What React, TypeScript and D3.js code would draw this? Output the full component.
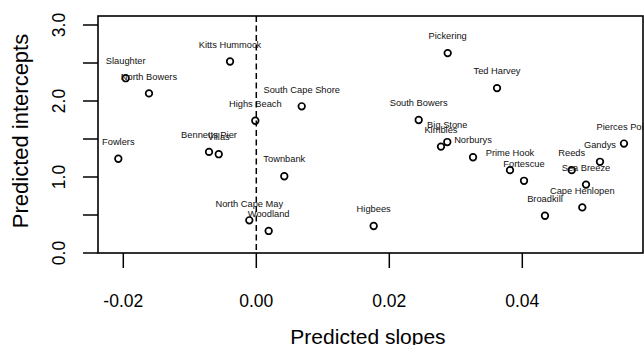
import React from "react";
import * as d3 from "d3";

const sites = [
  "Slaughter", "North Bowers", "Kitts Hummock", "Highs Beach", "South Cape Shore",
  "Fowlers", "Bennetts Pier", "Villas", "Townbank", "North Cape May", "Woodland",
  "Pickering", "Ted Harvey", "South Bowers", "Big Stone", "Kimbles", "Norburys",
  "Prime Hook", "Fortescue", "Reeds", "Gandys", "Pierces Point", "Sea Breeze",
  "Cape Henlopen", "Broadkill", "Higbees",
];
const slopes = [
  -0.01964, -0.01614, -0.00395, -0.00015, 0.00683,
  -0.02075, -0.00711, -0.00565, 0.00421, -0.00105, 0.00186,
  0.02878, 0.0362, 0.02442, 0.02872, 0.02777, 0.03259,
  0.03815, 0.04026, 0.04743, 0.05168, 0.05529, 0.04958,
  0.04902, 0.04341, 0.01765,
];
const intercepts = [
  2.3, 2.1, 2.52, 1.74, 1.93,
  1.24, 1.33, 1.3, 1.01, 0.43, 0.29,
  2.63, 2.17, 1.75, 1.46, 1.4, 1.26,
  1.09, 0.95, 1.09, 1.2, 1.44, 0.9,
  0.6, 0.49, 0.355,
];
const xTicks = [-0.02, 0, 0.02, 0.04];
const yTicks = [0, 0.5, 1, 1.5, 2, 2.5, 3];
const yLabels = [0, 1, 2, 3];

const W = 644;
const H = 345;
const font = "'Liberation Sans', Arial, sans-serif";

export default function App() {
  const left = 98, right = 643, top = 16, bottom = 253;
  const x = d3.scaleLinear().domain([-0.02, 0.04]).range([123.3, 522.3]);
  const y = d3.scaleLinear().domain([0, 3]).range([253, 25]);
  const tickLen = 15;

  return (
    <svg
      width={W}
      height={H}
      style={{ position: "absolute", left: 0, top: 0, background: "#fff" }}
      fontFamily={font}
    >
      {/* box */}
      <rect x={left} y={top} width={right - left} height={bottom - top} fill="none" stroke="#000" strokeWidth={1.6} />
      {/* zero line */}
      <line x1={x(0)} x2={x(0)} y1={top} y2={bottom} stroke="#000" strokeWidth={1.5} strokeDasharray="6,3.5" />
      {/* x axis ticks */}
      {xTicks.map((t) => (
        <g key={"xt" + t}>
          <line x1={x(t)} x2={x(t)} y1={bottom} y2={bottom + tickLen} stroke="#000" strokeWidth={1.5} />
          <text x={x(t)} y={307} fontSize={17.5} textAnchor="middle" fill="#000">
            {t.toFixed(2)}
          </text>
        </g>
      ))}
      {/* y axis ticks */}
      {yTicks.map((t) => (
        <line key={"yt" + t} x1={left - tickLen} x2={left} y1={y(t)} y2={y(t)} stroke="#000" strokeWidth={1.5} />
      ))}
      {yLabels.map((t) => (
        <text
          key={"yl" + t}
          transform={`translate(65,${y(t)}) rotate(-90)`}
          fontSize={17.5}
          textAnchor="middle"
          fill="#000"
        >
          {t.toFixed(1)}
        </text>
      ))}
      {/* axis titles */}
      <text x={368} y={344} fontSize={21} textAnchor="middle" fill="#000">
        Predicted slopes
      </text>
      <text transform={`translate(28,131) rotate(-90)`} fontSize={22} textAnchor="middle" fill="#000">
        Predicted intercepts
      </text>
      {/* points */}
      {sites.map((s, i) => (
        <circle
          key={"p" + s}
          cx={x(slopes[i])}
          cy={y(intercepts[i])}
          r={3.3}
          fill="none"
          stroke="#000"
          strokeWidth={1.7}
        />
      ))}
      {/* labels */}
      {sites.map((s, i) => (
        <text
          key={"l" + s}
          x={x(slopes[i])}
          y={y(intercepts[i]) - 13.8}
          fontSize={9.3}
          textAnchor="middle"
          fill="#111"
        >
          {s}
        </text>
      ))}
    </svg>
  );
}
